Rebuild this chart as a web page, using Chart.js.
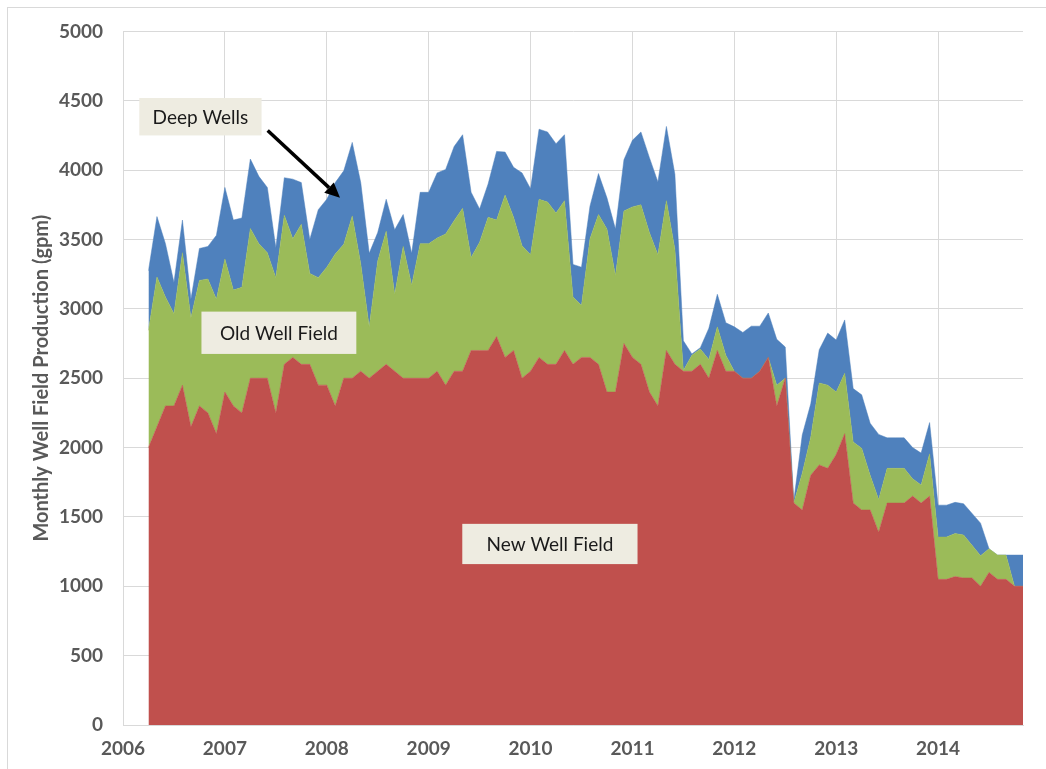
<!DOCTYPE html>
<html>
<head>
<meta charset="utf-8">
<title>Monthly Well Field Production</title>
<script src="https://cdn.jsdelivr.net/npm/chart.js@4.4.1/dist/chart.umd.min.js"></script>
<style>
  html, body { margin: 0; padding: 0; background: #fff; }
  #wrap { width: 1046px; height: 769px; position: relative; }
</style>
</head>
<body>
<div id="wrap"><canvas id="wellChart" width="1046" height="769"></canvas></div>
<script>
// one reading per month, Apr 2006 - Nov 2014
var months = [
  '2006-04','2006-05','2006-06','2006-07','2006-08','2006-09','2006-10','2006-11','2006-12',
  '2007-01','2007-02','2007-03','2007-04','2007-05','2007-06','2007-07','2007-08','2007-09','2007-10','2007-11','2007-12',
  '2008-01','2008-02','2008-03','2008-04','2008-05','2008-06','2008-07','2008-08','2008-09','2008-10','2008-11','2008-12',
  '2009-01','2009-02','2009-03','2009-04','2009-05','2009-06','2009-07','2009-08','2009-09','2009-10','2009-11','2009-12',
  '2010-01','2010-02','2010-03','2010-04','2010-05','2010-06','2010-07','2010-08','2010-09','2010-10','2010-11','2010-12',
  '2011-01','2011-02','2011-03','2011-04','2011-05','2011-06','2011-07','2011-08','2011-09','2011-10','2011-11','2011-12',
  '2012-01','2012-02','2012-03','2012-04','2012-05','2012-06','2012-07','2012-08','2012-09','2012-10','2012-11','2012-12',
  '2013-01','2013-02','2013-03','2013-04','2013-05','2013-06','2013-07','2013-08','2013-09','2013-10','2013-11','2013-12',
  '2014-01','2014-02','2014-03','2014-04','2014-05','2014-06','2014-07','2014-08','2014-09','2014-10','2014-11'
];

// gpm by source (stacked: new, old, deep)
var newWellField = [
  2000, 2150, 2300, 2300, 2450, 2150, 2300, 2250, 2100, 2400, 2300, 2250,
  2500, 2500, 2500, 2250, 2600, 2650, 2600, 2600, 2450, 2450, 2300, 2500,
  2500, 2550, 2500, 2550, 2600, 2550, 2500, 2500, 2500, 2500, 2550, 2450,
  2550, 2550, 2700, 2700, 2700, 2800, 2650, 2700, 2500, 2550, 2650, 2600,
  2600, 2700, 2600, 2650, 2650, 2600, 2400, 2400, 2750, 2650, 2600, 2400,
  2300, 2700, 2600, 2550, 2550, 2600, 2500, 2700, 2550, 2550, 2500, 2500,
  2550, 2650, 2300, 2500, 1600, 1550, 1800, 1875, 1850, 1950, 2100, 1600,
  1550, 1550, 1390, 1600, 1600, 1600, 1650, 1600, 1650, 1050, 1050, 1070,
  1060, 1060, 1000, 1100, 1050, 1050, 1000, 1000
];
var oldWellField = [
  845, 1080, 785, 665, 955, 785, 905, 965, 970, 960, 835, 905,
  1080, 970, 905, 975, 1075, 855, 1010, 655, 775, 850, 1095, 965,
  1170, 775, 370, 795, 960, 555, 950, 670, 970, 970, 960, 1090,
  1085, 1175, 670, 780, 960, 840, 1170, 960, 955, 840, 1140, 1170,
  1090, 1080, 485, 375, 855, 1080, 1175, 840, 955, 1085, 1150, 1150,
  1090, 1080, 830, 5, 115, 110, 135, 170, 115, 0, 0, 0,
  0, 0, 150, 0, 0, 265, 275, 590, 600, 450, 435, 440,
  445, 250, 235, 250, 250, 250, 125, 130, 305, 305, 305, 310,
  310, 235, 220, 170, 175, 175, 0, 0
];
var deepWells = [
  430, 435, 385, 225, 235, 135, 230, 235, 460, 515, 505, 500,
  500, 485, 470, 215, 270, 430, 300, 245, 490, 490, 515, 530,
  530, 585, 530, 205, 230, 465, 230, 230, 370, 370, 470, 465,
  535, 530, 470, 240, 240, 495, 310, 360, 525, 475, 505, 505,
  500, 475, 235, 275, 235, 295, 225, 335, 370, 480, 525, 540,
  525, 535, 540, 215, 10, 10, 225, 235, 235, 320, 330, 375,
  325, 320, 330, 225, 15, 275, 240, 240, 375, 375, 385, 385,
  385, 375, 470, 220, 220, 220, 225, 230, 225, 230, 230, 225,
  225, 230, 235, 0, 0, 0, 225, 225
];

var yearTicks = [2006, 2007, 2008, 2009, 2010, 2011, 2012, 2013, 2014];
var yTicks = [0, 500, 1000, 1500, 2000, 2500, 3000, 3500, 4000, 4500, 5000];

// text boxes placed in data units (x in years, y in gpm)
var callouts = [
  { text: 'Deep Wells',     x0: 2006.16, x1: 2007.36, y0: 4250, y1: 4520 },
  { text: 'Old Well Field', x0: 2006.77, x1: 2008.29, y0: 2675, y1: 2980 },
  { text: 'New Well Field', x0: 2009.33, x1: 2011.05, y0: 1160, y1: 1450 }
];
var arrow = { from: [2007.42, 4285], to: [2008.13, 3800] };

function toYear(m) {
  var p = m.split('-');
  return parseInt(p[0], 10) + (parseInt(p[1], 10) - 1) / 12;
}
function points(values) {
  return values.map(function(v, i) { return { x: toYear(months[i]), y: v }; });
}

var chartBox = {
  id: 'chartBox',
  beforeDraw: function(chart) {
    var ctx = chart.ctx;
    ctx.save();
    ctx.fillStyle = '#ffffff';
    ctx.fillRect(0, 0, chart.width, chart.height);
    ctx.strokeStyle = '#d9d9d9';
    ctx.lineWidth = 1;
    ctx.strokeRect(7.5, 7.5, chart.width, chart.height);
    ctx.restore();
  },
  afterDraw: function(chart) {
    var ctx = chart.ctx, xs = chart.scales.x, ys = chart.scales.y;
    ctx.save();

    // arrow to the deep wells band
    var ax = xs.getPixelForValue(arrow.from[0]), ay = ys.getPixelForValue(arrow.from[1]);
    var bx = xs.getPixelForValue(arrow.to[0]), by = ys.getPixelForValue(arrow.to[1]);
    var ang = Math.atan2(by - ay, bx - ax);
    var headLen = 15, headW = 7;
    ctx.strokeStyle = '#000';
    ctx.fillStyle = '#000';
    ctx.lineWidth = 3.5;
    ctx.beginPath();
    ctx.moveTo(ax, ay);
    ctx.lineTo(bx - Math.cos(ang) * headLen, by - Math.sin(ang) * headLen);
    ctx.stroke();
    ctx.beginPath();
    ctx.moveTo(bx, by);
    ctx.lineTo(bx - Math.cos(ang) * headLen - Math.sin(ang) * headW, by - Math.sin(ang) * headLen + Math.cos(ang) * headW);
    ctx.lineTo(bx - Math.cos(ang) * headLen + Math.sin(ang) * headW, by - Math.sin(ang) * headLen - Math.cos(ang) * headW);
    ctx.closePath();
    ctx.fill();

    ctx.font = '19px Lato, "Open Sans", sans-serif';
    ctx.textAlign = 'center';
    ctx.textBaseline = 'middle';
    callouts.forEach(function(c) {
      var l = xs.getPixelForValue(c.x0), r = xs.getPixelForValue(c.x1);
      var t = ys.getPixelForValue(c.y1), b = ys.getPixelForValue(c.y0);
      ctx.fillStyle = '#eeece1';
      ctx.fillRect(l, t, r - l, b - t);
      ctx.fillStyle = '#1a1a1a';
      ctx.fillText(c.text, (l + r) / 2, (t + b) / 2 + 1);
    });
    ctx.restore();
  }
};

var tickFont = { family: 'Lato, "Liberation Sans", sans-serif', size: 19, weight: 'bold' };

new Chart(document.getElementById('wellChart').getContext('2d'), {
  type: 'line',
  data: {
    datasets: [
      { label: 'New Well Field', data: points(newWellField), backgroundColor: '#c0504d', borderColor: '#c0504d', fill: 'origin' },
      { label: 'Old Well Field', data: points(oldWellField), backgroundColor: '#9bbb59', borderColor: '#9bbb59', fill: '-1' },
      { label: 'Deep Wells', data: points(deepWells), backgroundColor: '#4f81bd', borderColor: '#4f81bd', fill: '-1' }
    ]
  },
  options: {
    responsive: false,
    animation: false,
    devicePixelRatio: 1,
    layout: { padding: { left: 0, top: 30, right: 23, bottom: 0 } },
    elements: {
      point: { radius: 0, hoverRadius: 0 },
      line: { tension: 0, borderWidth: 0.5 }
    },
    plugins: {
      legend: { display: false },
      tooltip: { enabled: false }
    },
    scales: {
      x: {
        type: 'linear',
        min: yearTicks[0],
        max: 2014 + 10 / 12,
        afterBuildTicks: function(s) { s.ticks = yearTicks.map(function(v) { return { value: v }; }); },
        afterFit: function(s) { s.height = 44; },
        grid: { color: '#d9d9d9', drawTicks: false },
        border: { color: '#d9d9d9' },
        ticks: {
          color: '#595959', font: tickFont, padding: 12, maxRotation: 0,
          callback: function(v) { return String(v); }
        }
      },
      y: {
        stacked: true,
        min: 0,
        max: 5000,
        afterBuildTicks: function(s) { s.ticks = yTicks.map(function(v) { return { value: v }; }); },
        afterFit: function(s) { s.width = 123; },
        grid: { color: '#d9d9d9', drawTicks: false },
        border: { color: '#d9d9d9' },
        ticks: {
          color: '#595959', font: tickFont, padding: 20,
          callback: function(v) { return String(v); }
        },
        title: {
          display: true,
          text: 'Monthly Well Field Production (gpm)',
          color: '#595959',
          font: { family: 'Lato, "Liberation Sans", sans-serif', size: 20, weight: 'bold' },
          padding: { top: 30, bottom: 0 }
        }
      }
    }
  },
  plugins: [chartBox]
});
</script>
</body>
</html>
